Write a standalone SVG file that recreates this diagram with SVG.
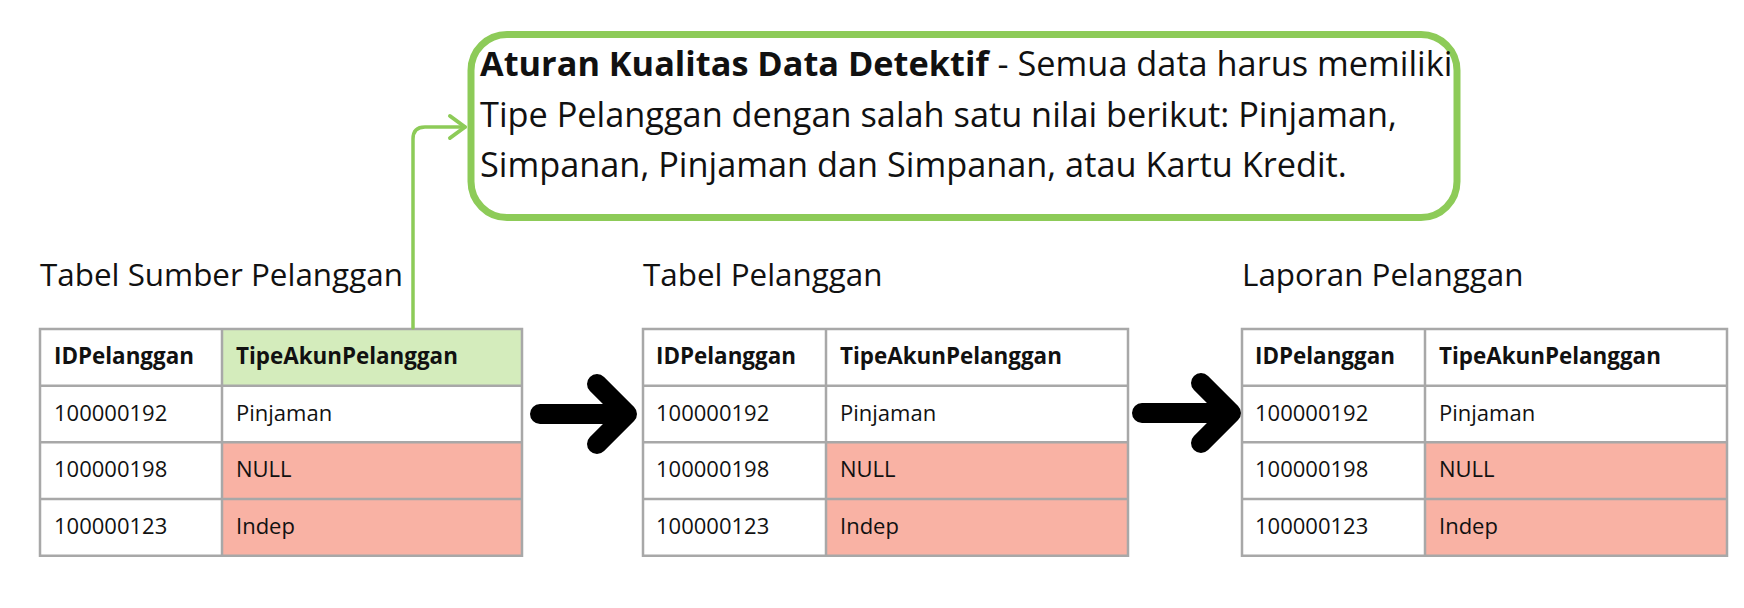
<svg xmlns="http://www.w3.org/2000/svg" width="1744" height="608" viewBox="0 0 1744 608">
<style>
text{font-family:"Open Sans","Noto Sans","Liberation Sans",sans-serif;fill:#111;}
.title{font-size:31.4px;}
.rule{font-size:34.3px;}
.b{font-weight:700;}
.cell{font-size:22px;}
.hdr{font-size:22.4px;font-weight:700;}
.grid{fill:none;stroke:#a8a8a8;stroke-width:2.5;}
.bg{fill:#fff;}
.ok{fill:#d4ecbc;}
.bad{fill:#f9b2a4;}
.green{fill:none;stroke:#8dcb58;stroke-linecap:round;stroke-linejoin:round;}
.big{fill:none;stroke:#000;stroke-width:20;stroke-linecap:round;stroke-linejoin:round;}
</style>
<rect width="1744" height="608" fill="#fff"/>

<g id="aturan">
<rect x="471" y="34.5" width="986" height="183" rx="36" fill="#fff" stroke="#8dcb58" stroke-width="7"/>
<text class="rule" x="480" y="76"><tspan class="b">Aturan Kualitas Data Detektif</tspan> - Semua data harus memiliki</text>
<text class="rule" x="480" y="127">Tipe Pelanggan dengan salah satu nilai berikut: Pinjaman,</text>
<text class="rule" x="480" y="177">Simpanan, Pinjaman dan Simpanan, atau Kartu Kredit.</text>
</g>

<g id="tabel-sumber-pelanggan">
<text class="title" x="40" y="286">Tabel Sumber Pelanggan</text>
<rect class="bg" x="40" y="329" width="482" height="226.7"/>
<rect class="ok" x="222" y="329" width="300" height="56.7"/>
<rect class="bad" x="222" y="442.3" width="300" height="113.4"/>
<path class="grid" d="M40 329H522V555.7H40Z M40 385.7H522 M40 442.3H522 M40 499H522 M222 329V555.7"/>
<text class="hdr" x="54" y="364">IDPelanggan</text>
<text class="hdr" x="236" y="364">TipeAkunPelanggan</text>
<text class="cell" x="54" y="420.5">100000192</text>
<text class="cell" x="236" y="420.5">Pinjaman</text>
<text class="cell" x="54" y="477">100000198</text>
<text class="cell" x="236" y="477">NULL</text>
<text class="cell" x="54" y="533.5">100000123</text>
<text class="cell" x="236" y="533.5">Indep</text>
</g>

<g id="tabel-pelanggan">
<text class="title" x="643" y="286">Tabel Pelanggan</text>
<rect class="bg" x="643" y="329" width="485" height="226.7"/>
<rect class="bad" x="826" y="442.3" width="302" height="113.4"/>
<path class="grid" d="M643 329H1128V555.7H643Z M643 385.7H1128 M643 442.3H1128 M643 499H1128 M826 329V555.7"/>
<text class="hdr" x="656" y="364">IDPelanggan</text>
<text class="hdr" x="840" y="364">TipeAkunPelanggan</text>
<text class="cell" x="656" y="420.5">100000192</text>
<text class="cell" x="840" y="420.5">Pinjaman</text>
<text class="cell" x="656" y="477">100000198</text>
<text class="cell" x="840" y="477">NULL</text>
<text class="cell" x="656" y="533.5">100000123</text>
<text class="cell" x="840" y="533.5">Indep</text>
</g>

<g id="laporan-pelanggan">
<text class="title" x="1242" y="286">Laporan Pelanggan</text>
<rect class="bg" x="1242" y="329" width="485" height="226.7"/>
<rect class="bad" x="1425" y="442.3" width="302" height="113.4"/>
<path class="grid" d="M1242 329H1727V555.7H1242Z M1242 385.7H1727 M1242 442.3H1727 M1242 499H1727 M1425 329V555.7"/>
<text class="hdr" x="1255" y="364">IDPelanggan</text>
<text class="hdr" x="1439" y="364">TipeAkunPelanggan</text>
<text class="cell" x="1255" y="420.5">100000192</text>
<text class="cell" x="1439" y="420.5">Pinjaman</text>
<text class="cell" x="1255" y="477">100000198</text>
<text class="cell" x="1439" y="477">NULL</text>
<text class="cell" x="1255" y="533.5">100000123</text>
<text class="cell" x="1439" y="533.5">Indep</text>
</g>

<g id="connectors">
<path class="green" stroke-width="3.5" d="M413 328V139Q413 127 425 127H465"/>
<polyline class="green" stroke-width="4" points="450,116 465,127 450,138"/>
<path class="big" d="M540 414H626 M597 384L627 414L597 444"/>
<path class="big" d="M1142 413H1230 M1201 383L1231 413L1201 443"/>
</g>
</svg>
